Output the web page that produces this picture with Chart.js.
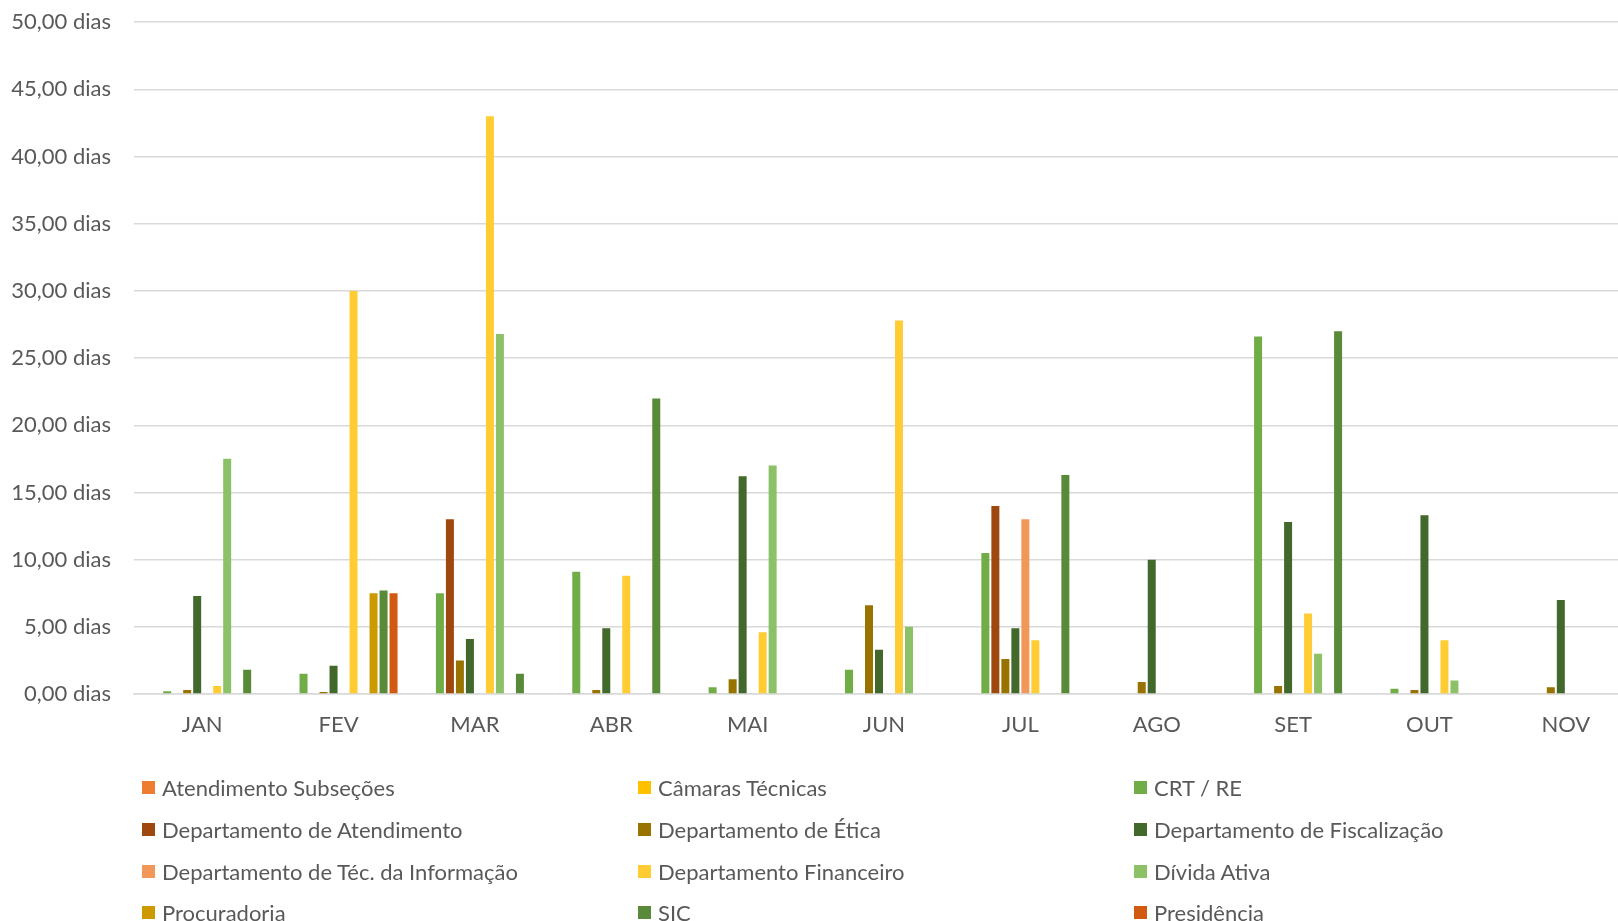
<!DOCTYPE html>
<html>
<head>
<meta charset="utf-8">
<script src="https://cdn.jsdelivr.net/npm/chart.js@4"></script>
<style>
  html, body { margin: 0; padding: 0; background: #fff; overflow: hidden; width: 1618px; height: 921px; }
  #wrap { position: absolute; left: 0; top: -14px; width: 1640px; height: 764px; }
  #legend { position: absolute; left: 0; top: 0; width: 1618px; height: 921px; pointer-events: none; }
  .item { position: absolute; height: 28px; display: flex; align-items: center; font-family: Lato, "Open Sans", sans-serif; font-size: 22px; color: #595959; white-space: nowrap; }
  .sw { width: 13px; height: 13px; margin-right: 7px; flex: none; }
</style>
</head>
<body>
<div id="wrap"><canvas id="c" width="1640" height="764"></canvas></div>
<div id="legend"></div>
<script>
const months = ["JAN", "FEV", "MAR", "ABR", "MAI", "JUN", "JUL", "AGO", "SET", "OUT", "NOV"];
const yTicks = [0, 5, 10, 15, 20, 25, 30, 35, 40, 45, 50];

const seriesNames = [
  "Atendimento Subseções", "Câmaras Técnicas", "CRT / RE",
  "Departamento de Atendimento", "Departamento de Ética", "Departamento de Fiscalização",
  "Departamento de Téc. da Informação", "Departamento Financeiro", "Dívida Ativa",
  "Procuradoria", "SIC", "Presidência"
];
const seriesColors = [
  "#ED7D31", "#FFC000", "#70AD47",
  "#9E480E", "#997300", "#43682B",
  "#F1975A", "#FFCD33", "#8CC168",
  "#CC9900", "#598A39", "#D25912"
];

const atendimentoSubsecoes = [null, null, null, null, null, null, null, null, null, null, null];
const camarasTecnicas      = [null, null, null, null, null, null, null, null, null, null, null];
const crtRe                = [0.2, 1.5, 7.5, 9.1, 0.5, 1.8, 10.5, null, 26.6, 0.4, null];
const deptAtendimento      = [null, null, 13.0, null, null, null, 14.0, null, null, null, null];
const deptEtica            = [0.3, 0.15, 2.5, 0.3, 1.1, 6.6, 2.6, 0.9, 0.6, 0.3, 0.5];
const deptFiscalizacao     = [7.3, 2.1, 4.1, 4.9, 16.2, 3.3, 4.9, 10.0, 12.8, 13.3, 7.0];
const deptTecInformacao    = [null, null, null, null, null, null, 13.0, null, null, null, null];
const deptFinanceiro       = [0.6, 30.0, 43.0, 8.8, 4.6, 27.8, 4.0, null, 6.0, 4.0, null];
const dividaAtiva          = [17.5, null, 26.8, null, 17.0, 5.0, null, null, 3.0, 1.0, null];
const procuradoria         = [null, 7.5, null, null, null, null, null, null, null, null, null];
const sic                  = [1.8, 7.7, 1.5, 22.0, null, null, 16.3, null, 27.0, null, null];
const presidencia          = [null, 7.5, null, null, null, null, null, null, null, null, null];

const seriesData = [
  atendimentoSubsecoes, camarasTecnicas, crtRe,
  deptAtendimento, deptEtica, deptFiscalizacao,
  deptTecInformacao, deptFinanceiro, dividaAtiva,
  procuradoria, sic, presidencia
];

const FONT = 'Lato, "Open Sans", sans-serif';
const GRID = '#D9D9D9';

const datasets = seriesNames.map((name, i) => ({
  label: name,
  data: seriesData[i],
  backgroundColor: seriesColors[i],
  borderWidth: 0,
  barPercentage: 0.8,
  categoryPercentage: 0.88
}));

new Chart(document.getElementById('c'), {
  type: 'bar',
  data: { labels: months, datasets },
  options: {
    responsive: false,
    animation: false,
    devicePixelRatio: 1,
    layout: { padding: { top: 7, right: 6, left: 0, bottom: 0 } },
    plugins: { legend: { display: false }, tooltip: { enabled: false } },
    scales: {
      x: {
        grid: { display: false, drawTicks: false },
        border: { display: true, color: GRID, width: 1.5 },
        ticks: { color: '#595959', font: { family: FONT, size: 22 }, padding: 18 },
        afterFit: (s) => { s.height = 56; }
      },
      y: {
        min: 0, max: 50,
        afterBuildTicks: (s) => { s.ticks = yTicks.map(v => ({ value: v })); },
        grid: { color: GRID, lineWidth: 1.5, drawTicks: false },
        border: { display: false },
        ticks: {
          color: '#595959', font: { family: FONT, size: 22 }, padding: 23,
          callback: (v) => v.toFixed(2).replace('.', ',') + ' dias'
        },
        afterFit: (s) => { s.width = 134; }
      }
    }
  }
});

const legend = document.getElementById('legend');
const colX = [142, 638, 1134];
const rowY = [787, 829.5, 871, 912.5];
seriesNames.forEach((name, i) => {
  const d = document.createElement('div');
  d.className = 'item';
  d.style.left = colX[i % 3] + 'px';
  d.style.top = (rowY[Math.floor(i / 3)] - 14) + 'px';
  const sw = document.createElement('span');
  sw.className = 'sw';
  sw.style.background = seriesColors[i];
  const t = document.createElement('span');
  t.textContent = name;
  d.appendChild(sw); d.appendChild(t);
  legend.appendChild(d);
});
</script>
</body>
</html>
